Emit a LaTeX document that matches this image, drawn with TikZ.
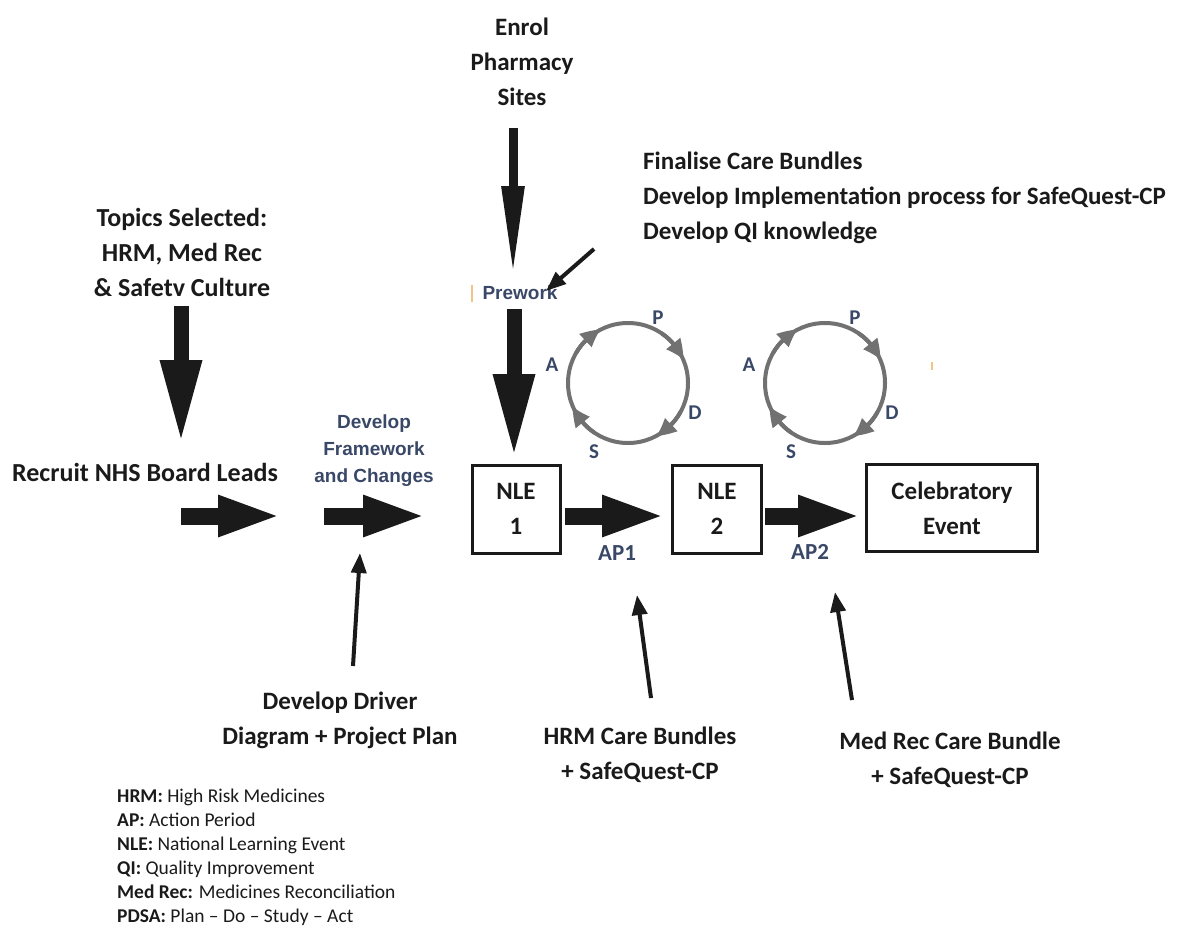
\documentclass[tikz,border=0pt]{standalone}
\usepackage{fontspec}
\setmainfont{Carlito}
\newfontfamily\headfont{Liberation Sans}
\usetikzlibrary{arrows.meta,bending}
\definecolor{ink}{HTML}{1A1A1A}
\definecolor{navy}{HTML}{3A4868}
\definecolor{cyclegray}{HTML}{717171}
\definecolor{speck}{HTML}{F2C48A}

\begin{document}
\begin{tikzpicture}[x=1pt,y=-1pt,
  lbl/.style={font=\bfseries\fontsize{25}{35}\selectfont, align=center, text=ink, inner sep=0pt},
  biglbl/.style={lbl, font=\bfseries\fontsize{26}{35}\selectfont},
  framelbl/.style={font=\headfont\bfseries\fontsize{19}{27}\selectfont, align=center, text=navy, inner sep=0pt},
  tag/.style={font=\bfseries\fontsize{23}{26}\selectfont, text=navy, inner sep=0pt},
  pdsa/.style={font=\bfseries\fontsize{21}{22}\selectfont, text=navy, inner sep=0pt},
  box/.style={draw=ink, line width=3pt, align=center, font=\bfseries\fontsize{25}{35}\selectfont, text=ink, inner sep=0pt},
  fatdown/.style={draw=ink, line width=15pt, -{Triangle[length=84pt,width=38pt]}},
  slimdown/.style={draw=ink, line width=9pt, -{Triangle[length=90pt,width=21pt]}},
  fatright/.style={draw=ink, line width=17pt, -{Triangle[length=64pt,width=37pt]}},
  pointer/.style={draw=ink, line width=4pt, -{Triangle[length=20pt,width=15pt]}},
  cyc/.style={draw=cyclegray, line width=4pt},
  cyctip/.style={draw=cyclegray, line width=4pt, -{Triangle[length=19pt,width=17pt,bend]}},
]
\useasboundingbox (0,0) rectangle (1204,930);

% ---- text labels ----
\node[lbl] (enrol) at (522,62) {Enrol\\Pharmacy\\Sites};
\node[lbl, align=left, anchor=west] (prep) at (643,198)
  {Finalise Care Bundles\\Develop Implementation process for SafeQuest-CP\\Develop QI knowledge};
\node[framelbl] (prework) at (520,293) {Prework};
\node[biglbl] (topics) at (182,252) {Topics Selected:\\HRM, Med Rec\\\& Safetv Culture};
\node[biglbl] (recruit) at (145,472) {Recruit NHS Board Leads};
\node[framelbl] (frame) at (374,451) {Develop\\Framework\\and Changes};

% ---- event boxes ----
\node[box, minimum width=88pt, minimum height=88pt] (nle1) at (516,509) {NLE\\1};
\node[box, minimum width=89pt, minimum height=88pt] (nle2) at (717,509) {NLE\\2};
\node[box, minimum width=171pt, minimum height=87pt] (celeb) at (952,508) {Celebratory\\Event};

\node[tag] (ap1) at (617,553) {AP1};
\node[tag] (ap2) at (810,552) {AP2};

\node[lbl] (driver) at (340,720) {Develop Driver\\Diagram + Project Plan};
\node[lbl] (hrmcb) at (640,755) {HRM Care Bundles\\+ SafeQuest-CP};
\node[lbl] (medcb) at (950,760) {Med Rec Care Bundle\\+ SafeQuest-CP};

% ---- legend ----
\node[anchor=north west, align=left, inner sep=0pt, text=ink,
      font=\fontsize{19.5}{24}\selectfont] (legend) at (117,789)
  {\textbf{HRM:} High Risk Medicines\\
   \textbf{AP:} Action Period\\
   \textbf{NLE:} National Learning Event\\
   \textbf{QI:} Quality Improvement\\
   \textbf{Med Rec:} Medicines Reconciliation\\
   \textbf{PDSA:} Plan – Do – Study – Act};

% ---- arrow end points ----
\coordinate (enrolA) at (513,128);   \coordinate (enrolB) at (513,276);
\coordinate (preA)   at (514,309);   \coordinate (preB)   at (514,458);
\coordinate (topA)   at (181,306);   \coordinate (topB)   at (181,444);
\coordinate (recA)   at (181,516);   \coordinate (recB)   at (282,516);
\coordinate (frA)    at (324,516);   \coordinate (frB)    at (427,516);
\coordinate (prepA)  at (594,249);   \coordinate (prepB)  at (546,291);
\coordinate (drvA)   at (353,666);   \coordinate (drvB)   at (360,553);
\coordinate (hrmA)   at (651,698);   \coordinate (hrmB)   at (637,595);
\coordinate (medA)   at (852,700);   \coordinate (medB)   at (835,592);

% ---- block arrows ----
\draw[slimdown] (enrolA) -- (enrolB);
\draw[fatdown]  (preA) -- (preB);
\draw[fatdown]  (topA) -- (topB);
\draw[fatright] (recA) -- (recB);
\draw[fatright] (frA) -- (frB);
\draw[fatright] ([xshift=3pt]nle1.east |- recA) -- ([xshift=-5pt]nle2.west |- recA);
\draw[fatright] ([xshift=2pt]nle2.east |- recA) -- ([xshift=-3pt]celeb.west |- recA);

% ---- thin pointers ----
\draw[pointer] (prepA) -- (prepB);
\draw[pointer] (drvA) -- (drvB);
\draw[pointer] (hrmA) -- (hrmB);
\draw[pointer] (medA) -- (medB);

% ---- PDSA cycles ----
\foreach \cx/\nm in {628/one, 825/two} {
  \coordinate (c\nm) at (\cx,383);
  \draw[cyc] (c\nm) circle[radius=60];
  \foreach \s/\e in {-150/-117, -56/-23, 29/62, 124/157}
    \draw[cyctip] ([shift={(\s:60)}]c\nm) arc[start angle=\s, end angle=\e, radius=60];
  \node[pdsa] (P\nm) at ([shift={(30,-65)}]c\nm) {P};
  \node[pdsa] (D\nm) at ([shift={(67,30)}]c\nm) {D};
  \node[pdsa] (S\nm) at ([shift={(-34,69)}]c\nm) {S};
  \node[pdsa] (A\nm) at ([shift={(-76,-18)}]c\nm) {A};
}

% ---- small specks ----
\draw[speck, line width=1.5pt] (472,285) -- (472,302);
\draw[speck, line width=1.5pt] (932,362) -- (932,370);
\end{tikzpicture}
\end{document}
